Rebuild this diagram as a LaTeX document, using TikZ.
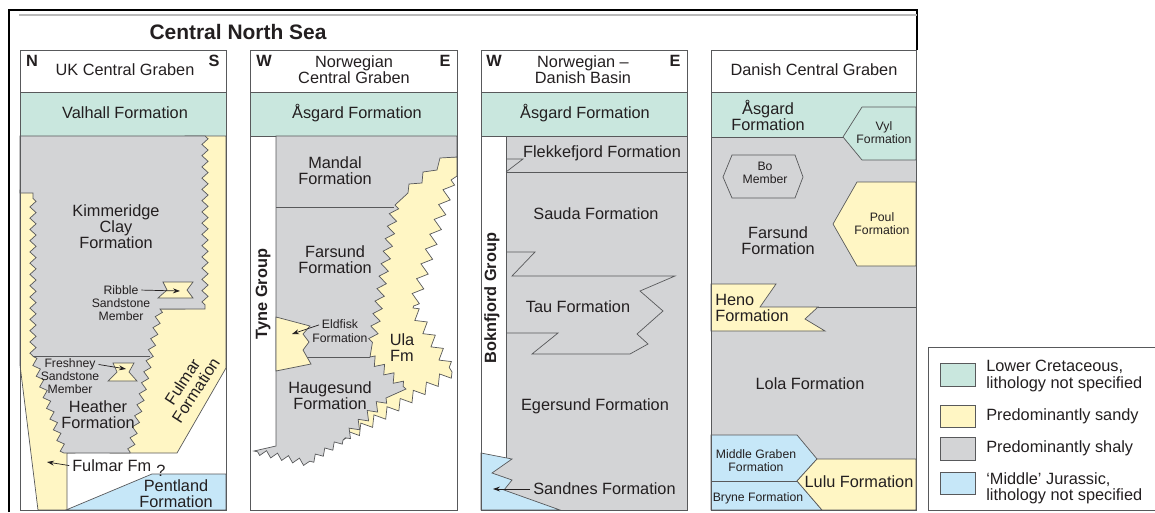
\documentclass[tikz,border=0pt]{standalone}
\usepackage{fontspec}
\setmainfont{Liberation Sans}
\usetikzlibrary{arrows.meta, decorations.pathmorphing}

\definecolor{cretcol}{HTML}{C9E7DE}
\definecolor{sandcol}{HTML}{FFF6C4}
\definecolor{shalecol}{HTML}{D3D4D6}
\definecolor{jurcol}{HTML}{C6E7F8}
\definecolor{linecol}{HTML}{58595B}
\definecolor{textcol}{HTML}{231F20}

\begin{document}
\begin{tikzpicture}[
    x=0.025cm, y=-0.025cm,
    % Styles
    cretaceous/.style={fill=cretcol, draw=linecol, line width=0.5pt},
    sandy/.style={fill=sandcol, draw=linecol, line width=0.5pt},
    shaly/.style={fill=shalecol, draw=linecol, line width=0.5pt},
    jurassic/.style={fill=jurcol, draw=linecol, line width=0.5pt},
    contact/.style={draw=linecol, line width=0.5pt},
    colframe/.style={draw=linecol, line width=0.7pt},
    teeth/.style={decoration={zigzag, segment length=8pt, amplitude=2.2pt}},
    midteeth/.style={decoration={zigzag, segment length=9pt, amplitude=3pt}},
    bigteeth/.style={decoration={zigzag, segment length=11pt, amplitude=3.5pt}},
    titletext/.style={font=\bfseries\fontsize{14.9}{16}\selectfont, text=textcol, inner sep=0pt},
    fm/.style={font=\fontsize{11.6}{11.4}\selectfont, text=textcol, align=center, inner sep=0pt},
    member/.style={font=\fontsize{8.7}{9.2}\selectfont, text=textcol, align=center, inner sep=0pt},
    compass/.style={font=\bfseries\fontsize{11.6}{12}\selectfont, text=textcol, inner sep=0pt},
    groupname/.style={font=\bfseries\fontsize{11.6}{12}\selectfont, text=textcol, rotate=90, inner sep=0pt},
    pointer/.style={-{Stealth[length=5pt, width=3.5pt]}, draw=textcol, line width=0.5pt, shorten <=2pt}
]
\useasboundingbox (0,0) rectangle (1155,512);

% Outer frame and title
\draw[line width=1.3pt] (9,512) -- (9,10) -- (917,10) -- (917,50);
\draw[gray!55, line width=0.8pt] (19,15) -- (917,15);
\node[titletext] (title) at (238,32) {Central North Sea};

% ---------- UK Central Graben ----------
\filldraw[cretaceous] (20,92) rectangle (226,136);
\filldraw[sandy] (185,136) -- (226,136) -- (226,368) -- (177,453) -- (110,453) -- (140,309) -- (185,309) -- cycle;
\filldraw[sandy] (20,190) -- (45,190) -- (75,453) -- (67,453) -- (67,510) -- (38,510) -- (20,365) -- cycle;
\filldraw[shaly] (20,136) -- (205,136) decorate[teeth]{-- (205,309)} -- (160,309)
    decorate[teeth]{-- (130,453)} -- (64,453) decorate[teeth]{-- (33,356)}
    decorate[teeth]{-- (33,193)} -- (20,193) -- cycle;
\draw[contact] (33,356) -- (150,356);
\filldraw[sandy] (163,282) -- (193,282) -- (187,290) -- (193,298) -- (158,298) -- (167,290) -- cycle;
\filldraw[sandy] (113,363) -- (134,363) -- (129,372) -- (137,381) -- (108,381) -- (117,372) -- cycle;
\filldraw[jurassic] (152,474) -- (226,474) -- (226,510) -- (66,510) -- cycle;
\draw[colframe] (20,50) rectangle (226,510);
\draw[colframe] (20,92) -- (226,92);

\node[compass] (uknorth) at (32,61) {N};
\node[compass] (uksouth) at (214,61) {S};
\node[fm] (uk) at (125,70) {UK Central Graben};
\node[fm] (valhall) at (125,113) {Valhall Formation};
\node[fm] (kimmeridge) at (116,227) {Kimmeridge\\Clay\\Formation};
\node[member] (ribble) at (121,290) {Ribble};
\node[member] (ribblemb) at (121,310) {Sandstone\\Member};
\node[member] (freshney) at (70,364) {Freshney};
\node[member] (freshneymb) at (70,383) {Sandstone\\Member};
\node[fm] (heather) at (98,415) {Heather\\Formation};
\node[fm, rotate=57] (fulmar) at (189,386) {Fulmar\\Formation};
\node[fm, anchor=west] (fulmarfm) at (72,466) {Fulmar Fm};
\node[fm] (query) at (161,471) {?};
\node[fm] (pentland) at (176,494) {Pentland\\Formation};

\coordinate (ribbletip) at (180,291);
\coordinate (freshneytip) at (126,369);
\coordinate (fulmartip) at (47,462);
\draw[pointer] (ribble.east) -- (ribbletip);
\draw[pointer] (freshney.east) -- (freshneytip);
\draw[pointer] (fulmarfm.west) -- (fulmartip);

% ---------- Norwegian Central Graben ----------
\filldraw[cretaceous] (250,92) rectangle (457,136);
\filldraw[sandy] (457,157) -- (457,176) -- (451,180) decorate[bigteeth]{-- (413,308)}
    decorate[bigteeth]{-- (452,372)} decorate[bigteeth]{-- (343,440)} -- (330,400)
    -- (360,300) -- (385,200) -- (420,157) -- cycle;
\filldraw[shaly] (276,136) -- (457,136) -- (457,157) -- (440,158) -- (437,170) -- (423,172)
    -- (422,183) -- (409,184) -- (408,193) -- (395,205) decorate[midteeth]{-- (372,345)}
    -- (370,357) decorate[midteeth]{-- (406,389)} -- (386,398) decorate[midteeth]{-- (343,440)}
    decorate[teeth]{-- (307,463)} decorate[teeth]{-- (254,451)} -- (276,446) -- cycle;
\draw[contact] (276,207) -- (394,207);
\draw[contact] (276,357) -- (370,357);
\filldraw[sandy] (276,317) -- (310,326) -- (303,334) -- (309,342) -- (303,350) -- (311,364) -- (276,371) -- cycle;
\draw[colframe] (250,50) rectangle (457,510);
\draw[colframe] (250,92) -- (457,92);

\node[compass] (ncgwest) at (264,61) {W};
\node[compass] (ncgeast) at (445,61) {E};
\node[fm] (ncg) at (354,70) {Norwegian\\Central Graben};
\node[fm] (asgardn) at (357,113) {Åsgard Formation};
\node[groupname] (tyne) at (263,294) {Tyne Group};
\node[fm] (mandal) at (335,171) {Mandal\\Formation};
\node[fm] (farsundn) at (335,260) {Farsund\\Formation};
\node[member] (eldfisk) at (340,324) {Eldfisk};
\node[member] (eldfiskfm) at (340,338) {Formation};
\node[fm] (ula) at (402,348) {Ula\\Fm};
\node[fm] (haugesund) at (330,396) {Haugesund\\Formation};

\coordinate (eldfisktip) at (292,334);
\draw[pointer] (eldfisk.west) -- (eldfisktip);

% ---------- Norwegian-Danish Basin ----------
\filldraw[cretaceous] (481,92) rectangle (687,136);
\filldraw[shaly] (506,136) -- (687,136) -- (687,510) -- (481,510) -- (481,458) -- (506,458) -- cycle;
\filldraw[jurassic] (481,453) -- (512,459) -- (492,473) -- (512,480) -- (504,490) -- (560,510) -- (481,510) -- cycle;
\draw[contact] (506,159) -- (523,159) -- (506,172);
\draw[contact] (506,172) -- (687,172);
\draw[contact] (506,252) -- (535,252) -- (512,276) -- (675,276) -- (640,291) -- (663,311) -- (637,334)
    -- (648,344) -- (630,354) -- (532,354) -- (558,333) -- (506,333);
\draw[colframe] (481,50) rectangle (687,510);
\draw[colframe] (481,92) -- (687,92);

\node[compass] (ndbwest) at (494,61) {W};
\node[compass] (ndbeast) at (675,61) {E};
\node[fm] (ndb) at (583,70) {Norwegian –\\Danish Basin};
\node[fm] (asgardb) at (585,113) {Åsgard Formation};
\node[groupname] (boknfjord) at (492,298) {Boknfjord Group};
\node[fm] (flekkefjord) at (602,153) {Flekkefjord Formation};
\node[fm] (sauda) at (596,214) {Sauda Formation};
\node[fm] (tau) at (578,307) {Tau Formation};
\node[fm] (egersund) at (595,406) {Egersund Formation};
\node[fm, anchor=west] (sandnes) at (533,489) {Sandnes Formation};

\coordinate (sandnestip) at (493,489);
\draw[pointer] (sandnes.west) -- (sandnestip);

% ---------- Danish Central Graben ----------
\filldraw[shaly] (711,137) rectangle (916,510);
\fill[cretcol] (711,92) rectangle (916,137);
\draw[contact] (711,137) -- (843,137);
\filldraw[cretaceous] (916,107) -- (862,107) -- (843,137) -- (862,160) -- (916,160) -- cycle;
\draw[contact] (723,177) -- (732,155) -- (795,155) -- (803,177) -- (795,198) -- (732,198) -- cycle;
\filldraw[sandy] (857,182) -- (916,182) -- (916,266) -- (857,266) -- (833,224) -- cycle;
\filldraw[sandy] (711,284) -- (776,284) -- (760,307) -- (818,307) -- (805,319) -- (825,331) -- (711,331) -- cycle;
\draw[contact] (818,307) -- (916,307);
\filldraw[jurassic] (711,435) -- (797,435) -- (817,459) -- (797,481) -- (822,510) -- (711,510) -- cycle;
\draw[contact] (711,481) -- (797,481);
\filldraw[sandy] (817,459) -- (916,459) -- (916,510) -- (822,510) -- (797,481) -- cycle;
\draw[colframe] (711,50) rectangle (916,510);
\draw[colframe] (711,92) -- (916,92);

\node[fm] (dcg) at (814,70) {Danish Central Graben};
\node[fm] (asgardd) at (768,115) {Åsgard\\Formation};
\node[member] (vyl) at (884,133) {Vyl\\Formation};
\node[member] (bo) at (765,173) {Bo\\Member};
\node[member] (poul) at (882,224) {Poul\\Formation};
\node[fm] (farsundd) at (778,241) {Farsund\\Formation};
\node[fm, anchor=west, align=left] (heno) at (715,308) {Heno\\Formation};
\node[fm] (lola) at (810,384) {Lola Formation};
\node[member] (middlegraben) at (756,461) {Middle Graben\\Formation};
\node[member] (bryne) at (758,498) {Bryne Formation};
\node[fm] (lulu) at (859,482) {Lulu Formation};

% ---------- Legend ----------
\draw[contact] (928,347) rectangle (1165,510);
\filldraw[cretaceous] (940,363) rectangle (975,386);
\filldraw[sandy] (940,405) rectangle (975,427);
\filldraw[shaly] (940,437) rectangle (975,460);
\filldraw[jurassic] (940,472) rectangle (975,494);
\node[fm, anchor=west, align=left] (keycret) at (986,376) {Lower Cretaceous,\\lithology not specified};
\node[fm, anchor=west] (keysand) at (986,416) {Predominantly sandy};
\node[fm, anchor=west] (keyshale) at (986,448) {Predominantly shaly};
\node[fm, anchor=west, align=left] (keyjur) at (986,488) {‘Middle’ Jurassic,\\lithology not specified};

\end{tikzpicture}
\end{document}
